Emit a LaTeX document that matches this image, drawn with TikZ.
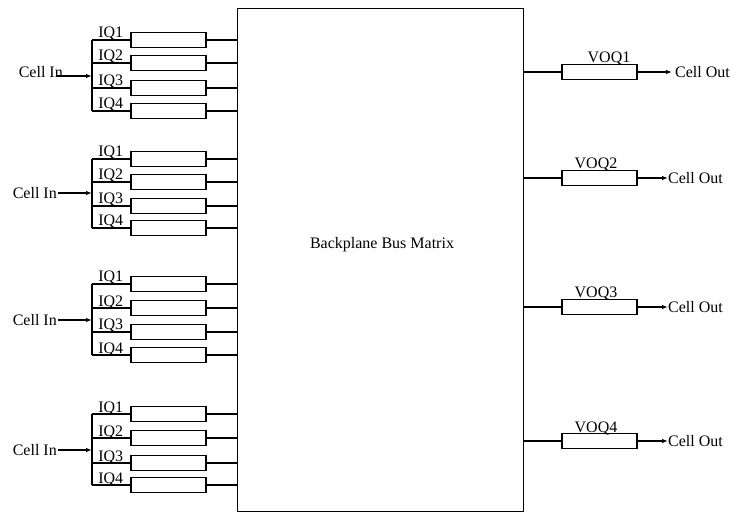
\documentclass[tikz,border=0pt]{standalone}
\usepackage{fontspec}
\setmainfont{Liberation Serif}
\usetikzlibrary{arrows.meta,calc}
\begin{document}
\begin{tikzpicture}[x=1pt,y=-1pt,
  every node/.style={font=\fontsize{16}{19}\selectfont},
  qbox/.style={draw,line width=1.2pt,minimum width=75pt,minimum height=15pt,inner sep=0pt},
  wire/.style={line width=1.1pt},
  arr/.style={line width=1.1pt,-{Latex[length=6pt,width=4.5pt]}},
  lbl/.style={inner sep=0pt,anchor=base east}]
\useasboundingbox (0,0) rectangle (734,513);
% backplane
\node[draw,line width=1.3pt,minimum width=286pt,minimum height=503pt,inner sep=0pt,anchor=north west] (bp) at (237,8) {};
\node[inner sep=0pt] (bptxt) at (382,245) {Backplane Bus Matrix};
% input groups
\foreach \g/\ya/\yb/\yc/\yd/\yarr in {1/40/63/88/111/76, 2/159/182/206/228/193, 3/284/308/332/355/320, 4/414/438/463/485/450}{
  \node[qbox] (q\g-1) at (168.5,\ya) {};
  \node[qbox] (q\g-2) at (168.5,\yb) {};
  \node[qbox] (q\g-3) at (168.5,\yc) {};
  \node[qbox] (q\g-4) at (168.5,\yd) {};
  \coordinate (t\g) at (92,\ya);
  \coordinate (u\g) at (92,\yd);
  \coordinate (b\g) at (92,\yarr);
  \draw[wire] (t\g) -- (u\g);
  \foreach \k in {1,2,3,4}{
    \draw[wire] (q\g-\k.west -| t\g) -- (q\g-\k.west);
    \draw[wire] (q\g-\k.east) -- (q\g-\k.east -| bp.west);
    \node[lbl] (iq\g-\k) at ($(q\g-\k.west)+(-7,-2)$) {IQ\k};
  }
}
% cell in
\node[inner sep=0pt,anchor=east] (cin1) at (63,72) {Cell In};
\coordinate (cs1) at (57,76);
\draw[arr] (cs1) -- (b1);
\foreach \g in {2,3,4}{
  \node[inner sep=1pt,anchor=east] (cin\g) at ($(b\g)+(-34,0)$) {Cell In};
  \draw[arr] (cin\g.east) -- (b\g);
}
% output queues
\foreach \k/\y/\lx/\ox/\gap in {1/72/609/675/3, 2/178/596/668/0, 3/307/596/668/0, 4/441/596/668/0}{
  \node[qbox] (v\k) at (599.5,\y) {};
  \draw[wire] (v\k.west -| bp.east) -- (v\k.west);
  \node[inner sep=0pt,anchor=base] (vl\k) at (\lx,\y-9) {VOQ\k};
  \node[inner sep=0pt,anchor=west] (co\k) at (\ox,\y) {Cell Out};
  \draw[arr] (v\k.east) -- ($(co\k.west)+(-\gap,0)$);
}
\end{tikzpicture}
\end{document}
